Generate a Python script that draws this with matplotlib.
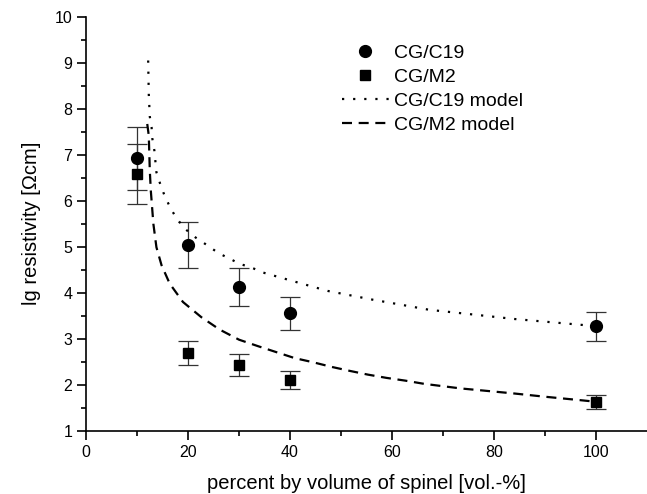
import matplotlib
matplotlib.use('Agg')
import matplotlib.pyplot as plt
import numpy as np

plt.rcParams['font.family'] = ['Liberation Sans', 'DejaVu Sans']

# measured resistivity (lg, Ohm cm) with error bars
vol = [10, 20, 30, 40, 100]
c19 = [6.92, 5.03, 4.13, 3.55, 3.27]
c19_err = [0.69, 0.50, 0.41, 0.35, 0.32]
m2 = [6.58, 2.69, 2.42, 2.11, 1.62]
m2_err = [0.65, 0.27, 0.24, 0.20, 0.15]

# model curves
c19_model_x = [12.18, 12.3, 12.5, 12.85, 13.0, 13.4, 13.8, 14.5, 15.3, 16.3,
               17.6, 19.4, 21.5, 23.8, 26.0, 28.2, 30.1, 32.4, 34.7, 41,
               47.4, 56.2, 60.8, 67.3, 75.7, 84, 97.4, 100]
c19_model_y = [9.05, 8.32, 7.83, 7.60, 7.35, 7.09, 6.62, 6.38, 6.14, 5.90,
               5.64, 5.39, 5.20, 5.03, 4.86, 4.74, 4.63, 4.55, 4.44, 4.24,
               4.04, 3.85, 3.76, 3.63, 3.53, 3.43, 3.30, 3.27]
m2_model_x = [12.0, 12.3, 12.5, 12.7, 13.2, 13.8, 14.8, 16.4, 19.0, 22.6,
              26.2, 30.0, 33.7, 37.3, 40.9, 44.5, 48.1, 51.8, 55.3, 58.9,
              62.6, 66.3, 69.9, 73.5, 76.4, 84, 90, 97.4, 100]
m2_model_y = [7.67, 7.42, 6.66, 6.22, 5.50, 4.99, 4.60, 4.20, 3.80, 3.47,
              3.20, 2.98, 2.84, 2.71, 2.58, 2.49, 2.39, 2.30, 2.22, 2.15,
              2.09, 2.02, 1.97, 1.92, 1.89, 1.81, 1.74, 1.66, 1.63]

fig = plt.figure(figsize=(6.47, 4.94), dpi=100)
ax = fig.add_axes([0.133, 0.128, 0.867, 0.838])

err_style = dict(fmt='none', ecolor='#333333', elinewidth=0.9, capsize=7,
                 capthick=0.9)
ax.errorbar(vol, c19, yerr=c19_err, **err_style)
ax.errorbar(vol, m2, yerr=m2_err, **err_style)

ax.plot(vol, c19, 'o', color='black', ms=8.5, label='CG/C19')
ax.plot(vol, m2, 's', color='black', ms=7, label='CG/M2')
ax.plot(c19_model_x, c19_model_y, color='black', lw=1.6,
        linestyle=(0, (1, 4)), label='CG/C19 model')
ax.plot(m2_model_x, m2_model_y, color='black', lw=1.6,
        linestyle=(0, (4.5, 3)), label='CG/M2 model')

ax.set_xlim(0, 110)
ax.set_ylim(1, 10)
ax.set_xticks([0, 20, 40, 60, 80, 100])
ax.set_xticks(np.arange(10, 110, 20), minor=True)
ax.set_yticks(range(1, 11))
ax.set_yticks(np.arange(1.5, 10, 1), minor=True)

for side in ['top', 'right']:
    ax.spines[side].set_visible(False)
for side in ['left', 'bottom']:
    ax.spines[side].set_linewidth(1.2)
ax.tick_params(which='major', direction='out', length=6.5, width=1.2,
               labelsize=11.5)
ax.tick_params(which='minor', direction='out', length=3.5, width=1.2)

ax.set_xlabel('percent by volume of spinel [vol.-%]', fontsize=14.5, labelpad=10)
ax.set_ylabel('lg resistivity [\u03a9cm]', fontsize=14.5, labelpad=10)

ax.legend(loc='upper left', bbox_to_anchor=(0.425, 0.975),
          frameon=False, fontsize=14, handlelength=2.4,
          handletextpad=0.3, labelspacing=0.32)

fig.savefig('out.png', dpi=100)
